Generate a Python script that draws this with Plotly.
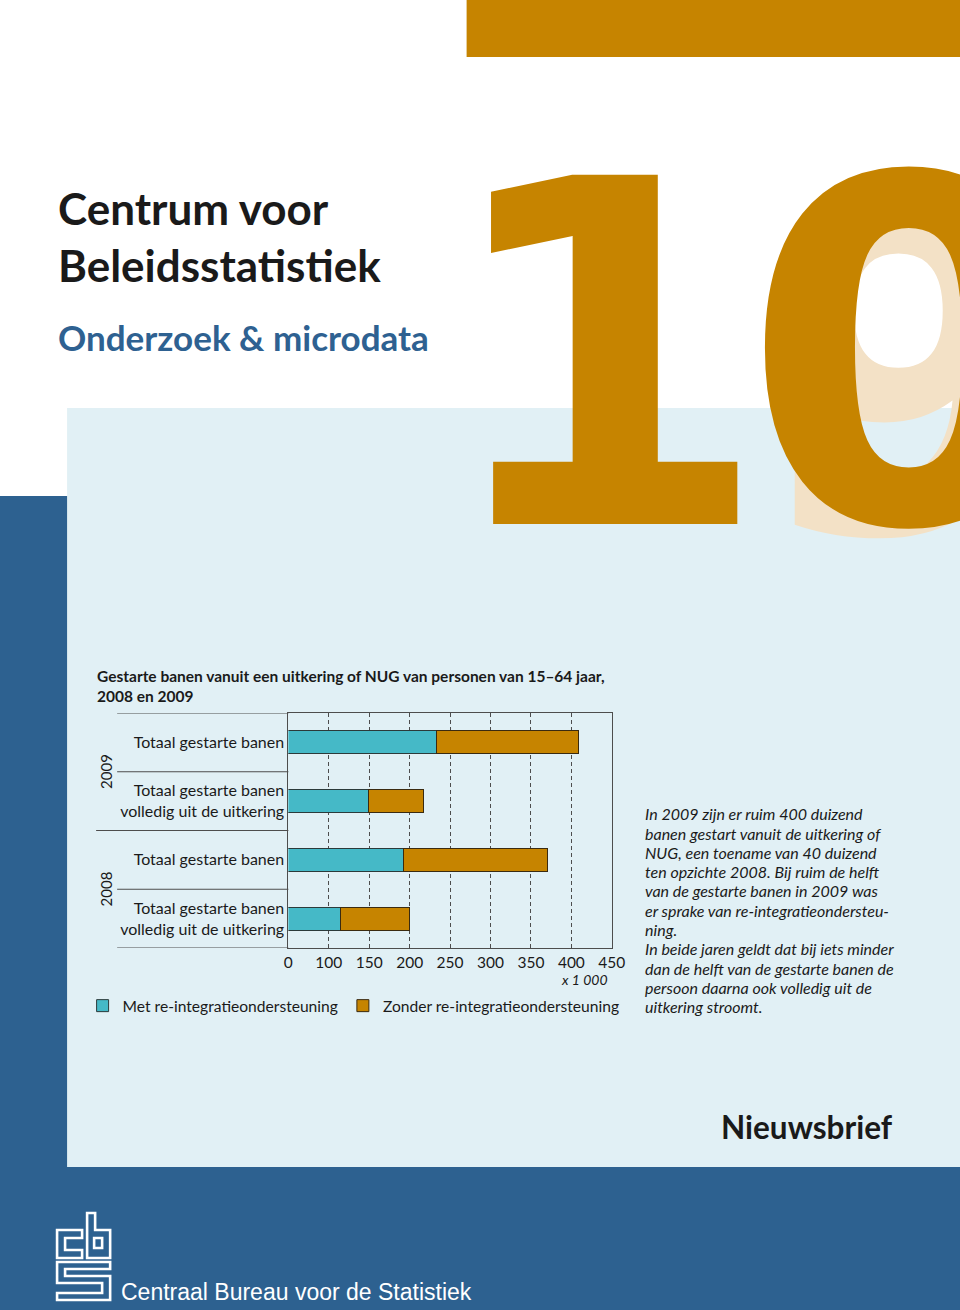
import plotly.graph_objects as go

# ---------------- data ----------------
years = ["2009", "2009", "2008", "2008"]
categories = [
    "Totaal gestarte banen",
    "Totaal gestarte banen<br>volledig uit de uitkering",
    "Totaal gestarte banen",
    "Totaal gestarte banen<br>volledig uit de uitkering",
]
met_reintegratie = [233, 149, 193, 114]      # x 1 000
zonder_reintegratie = [176, 68, 177, 86]     # x 1 000
series_names = ["Met re-integratieondersteuning", "Zonder re-integratieondersteuning"]

# x-axis as printed: first tick labelled "0" (broken axis), then 100 .. 450
tick_values = [50, 100, 150, 200, 250, 300, 350, 400, 450]
tick_labels = ["0", "100", "150", "200", "250", "300", "350", "400", "450"]

chart_title = ("Gestarte banen vanuit een uitkering of NUG van personen van 15–64 jaar,"
               "<br>2008 en 2009")
side_text_lines = [
    "In 2009 zijn er ruim 400 duizend",
    "banen gestart vanuit de uitkering of",
    "NUG, een toename van 40 duizend",
    "ten opzichte 2008. Bij ruim de helft",
    "van de gestarte banen in 2009 was",
    "er sprake van re-integratieondersteu-",
    "ning.",
    "In beide jaren geldt dat bij iets minder",
    "dan de helft van de gestarte banen de",
    "persoon daarna ook volledig uit de",
    "uitkering stroomt.",
]

# ---------------- page geometry helpers ----------------
W, H = 960, 1310
def px(x):
    # horizontal page position -> paper fraction (calibrated to the rendered page)
    return ((x - 5) / 0.981) / W
def py(y): return 1 - y / H

ORANGE = "#C68400"
CYAN = "#45B9C7"
DARKBLUE = "#2D6190"
PANEL = "#E1F0F5"
PALE = "#F3E1C6"
INK = "#1a1a1a"
LINE = "#4d4d4d"
FONT = "Lato"

ypos = list(range(len(categories)))

fig = go.Figure()
fig.add_trace(go.Bar(
    y=ypos, x=met_reintegratie, orientation="h", name=series_names[0],
    marker=dict(color=CYAN, line=dict(color="#2b3a3a", width=1)),
    width=0.39,
))
fig.add_trace(go.Bar(
    y=ypos, x=zonder_reintegratie, orientation="h", name=series_names[1],
    marker=dict(color=ORANGE, line=dict(color="#3a2a10", width=1)),
    width=0.39,
))

shapes = []
def rect(x0, y0, x1, y1, color, layer="below"):
    shapes.append(dict(type="rect", xref="paper", yref="paper",
                       x0=px(x0), x1=px(x1), y0=py(y1), y1=py(y0),
                       fillcolor=color, line=dict(width=0), layer=layer))

rect(467, -5, 1000, 57, ORANGE)
rect(68, 408, 1000, 1167, PANEL)
rect(-20, 496, 68, 1315, DARKBLUE)
rect(-20, 1167, 1000, 1315, DARKBLUE)

# category separator lines left of the plot area (in data units on y)
for i in range(len(categories) + 1):
    yb = i - 0.5
    if 0 < i < len(categories) and years[i] != years[i - 1]:
        xs = 97
    else:
        xs = 118
    shapes.append(dict(type="line", xref="paper", yref="y",
                       x0=px(xs), x1=px(289), y0=yb, y1=yb,
                       line=dict(color=LINE, width=1), layer="above"))

# CBS logo (white outlines)
def path(d):
    shapes.append(dict(type="path", xref="paper", yref="paper", path=d,
                       line=dict(color="white", width=2.6), layer="above"))

def to_path(points, close=True):
    s = "M" + " L".join(f"{px(x):.5f},{py(y):.5f}" for x, y in points)
    return s + (" Z" if close else "")

path(to_path([(83, 1230), (58, 1230), (58, 1258), (83, 1258), (83, 1250), (66, 1250), (66, 1238), (83, 1238)]))
path(to_path([(88, 1213), (96, 1213), (96, 1230), (111, 1230), (111, 1258), (88, 1258)]))
path(to_path([(95, 1238), (103, 1238), (103, 1248), (95, 1248)]))
path(to_path([(58, 1262), (111, 1262), (111, 1269), (66, 1269), (66, 1276), (111, 1276),
              (111, 1300), (58, 1300), (58, 1293), (103, 1293), (103, 1283), (58, 1283)]))

annotations = []
def text(x, y, s, size, color=INK, family=FONT, weight="normal", style="normal",
         xanchor="left", yanchor="middle", angle=0, align="left"):
    annotations.append(dict(x=px(x), y=py(y), xref="paper", yref="paper", text=s,
                            showarrow=False, xanchor=xanchor, yanchor=yanchor,
                            textangle=angle, align=align,
                            font=dict(size=size, color=color, family=family,
                                      weight=weight, style=style)))

# big issue number (pale "9" behind the "0")
BIG = "DejaVu Sans"
text(748, 377, "9", 447, color=PALE, family=BIG, weight="bold")
text(435.7, 358, "1", 479, color=ORANGE, family=BIG, weight="bold")
text(739.8, 356, "0", 479, color=ORANGE, family=BIG, weight="bold")

text(57, 208, "Centrum voor", 44, weight="bold")
text(57, 265, "Beleidsstatistiek", 44, weight="bold")
text(57, 337, "Onderzoek &amp; microdata", 35, color="#2E6191", weight="bold")

text(96, 686, chart_title, 15.5, weight="bold")

# year labels (rotated)
for yr in dict.fromkeys(years):
    idx = [i for i, v in enumerate(years) if v == yr]
    annotations.append(dict(x=px(107), y=sum(idx) / len(idx), xref="paper", yref="y",
                            text=yr, showarrow=False, textangle=-90,
                            xanchor="center", yanchor="middle",
                            font=dict(size=15, color=INK, family=FONT)))

text(610, 979, "x 1 000", 14, style="italic", xanchor="right")

for k, line in enumerate(side_text_lines):
    text(642.7, 814 + k * 19.25, line, 16, style="italic")

text(719, 1127, "Nieuwsbrief", 31.5, weight="bold")
text(120, 1292, "Centraal Bureau voor de Statistiek", 23, color="white",
     family="Liberation Sans")

fig.update_layout(
    width=W, height=H,
    margin=dict(l=0, r=0, t=0, b=0),
    paper_bgcolor="white",
    plot_bgcolor="rgba(0,0,0,0)",
    barmode="stack",
    shapes=shapes,
    annotations=annotations,
    font=dict(family=FONT, color=INK, size=15),
    xaxis=dict(domain=[px(289), px(612)], range=[tick_values[0], tick_values[-1]],
               tickmode="array", tickvals=tick_values, ticktext=tick_labels,
               showgrid=True, gridcolor=LINE, gridwidth=1, griddash="4px,3px",
               showline=True, linecolor=LINE, linewidth=1, mirror=True,
               ticks="", zeroline=False, tickfont=dict(size=15.5, color=INK)),
    yaxis=dict(domain=[py(948), py(713)], range=[len(categories) - 0.5, -0.5],
               tickmode="array", tickvals=ypos, ticktext=categories,
               showgrid=False, showline=True, linecolor=LINE, linewidth=1, mirror=True,
               ticks="", zeroline=False, tickfont=dict(size=16, color=INK)),
    showlegend=True,
    legend=dict(orientation="h", x=px(83.5), xanchor="left", y=py(1006), yanchor="middle",
                bgcolor="rgba(0,0,0,0)", font=dict(size=15.6, color=INK, family=FONT),
                traceorder="normal"),
)

fig.write_html("out.html", config={"displayModeBar": False},
               post_script="document.body.style.margin='0px';"
                           "document.documentElement.style.overflow='hidden';")
